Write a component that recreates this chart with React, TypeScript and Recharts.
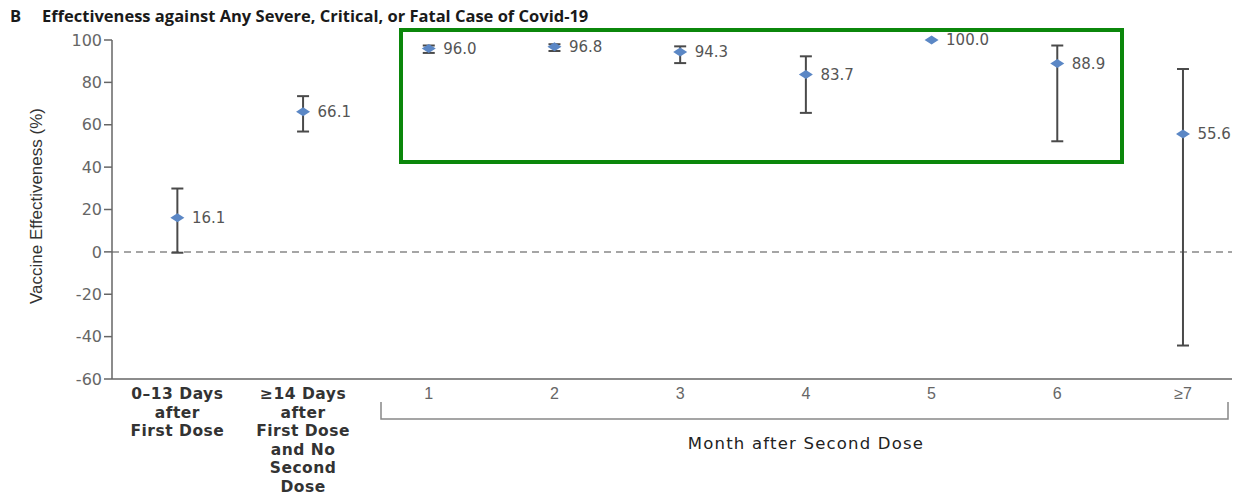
import React from 'react'
import {
  ComposedChart, Scatter, XAxis, YAxis, ErrorBar, LabelList, ReferenceLine,
} from 'recharts'

// vaccine effectiveness against severe, critical or fatal covid-19
const categories = [
  ['0–13 Days', 'after', 'First Dose'],
  ['≥14 Days', 'after', 'First Dose', 'and No', 'Second', 'Dose'],
  ['1'], ['2'], ['3'], ['4'], ['5'], ['6'], ['≥7'],
]
const estimates = [16.1, 66.1, 96.0, 96.8, 94.3, 83.7, 100.0, 88.9, 55.6]
const lowerCI: (number | null)[] = [-0.4, 56.8, 93.9, 94.8, 89.1, 65.6, null, 52.2, -44.2]
const upperCI: (number | null)[] = [29.9, 73.5, 97.4, 98.0, 97.0, 92.3, null, 97.4, 86.3]
const yTicks = [-60, -40, -20, 0, 20, 40, 60, 80, 100]

const points = estimates.map((ve, i) => ({ pos: i, ve }))
const intervals = estimates
  .map((ve, i) => ({
    pos: i,
    ve,
    err: lowerCI[i] == null ? null : [ve - (lowerCI[i] as number), (upperCI[i] as number) - ve],
  }))
  .filter((d) => d.err != null)

const numFont = 'DejaVu Sans, sans-serif'
const narrowFont = '"Liberation Sans Narrow", "Liberation Sans", sans-serif'

const Diamond = (props: any) => {
  const { cx, cy } = props
  if (cx == null || cy == null) return null
  return (
    <polygon
      points={`${cx - 7},${cy} ${cx},${cy - 4.5} ${cx + 7},${cy} ${cx},${cy + 4.5}`}
      fill="#5b87c5"
    />
  )
}

const Nothing = () => <g />

const CategoryTick = (props: any) => {
  const { x, y, payload } = props
  const lines = categories[payload.value] || []
  if (payload.value < 2) {
    return (
      <text
        x={x}
        y={y - 1}
        textAnchor="middle"
        fontFamily={numFont}
        fontWeight={700}
        fontSize={15.5}
        letterSpacing={0.5}
        fill="#333"
      >
        {lines.map((l, k) => (
          <tspan key={k} x={x} dy={k === 0 ? 13 : 18.5}>{l}</tspan>
        ))}
      </text>
    )
  }
  return (
    <text x={x} y={y + 12} textAnchor="middle" fontFamily={narrowFont} fontSize={16} fill="#666">
      {lines[0]}
    </text>
  )
}

export default function App() {
  return (
    <div style={{ position: 'absolute', left: 0, top: 0, width: 1245, height: 497, background: '#fff' }}>
      <ComposedChart
        width={1245}
        height={497}
        data={points}
        margin={{ top: 40, right: 13, left: 55, bottom: 0 }}
      >
        <XAxis
          dataKey="pos"
          type="number"
          domain={[-0.52, 8.39]}
          ticks={[0, 1, 2, 3, 4, 5, 6, 7, 8]}
          interval={0}
          height={118}
          tick={<CategoryTick />}
          tickLine={false}
          axisLine={{ stroke: '#666', strokeWidth: 1.5 }}
        />
        <YAxis
          type="number"
          domain={[-60, 100]}
          ticks={yTicks}
          interval={0}
          width={57}
          tickSize={8}
          tick={{ fontSize: 16, fill: '#666', fontFamily: numFont }}
          tickLine={{ stroke: '#666', strokeWidth: 1.5 }}
          axisLine={{ stroke: '#666', strokeWidth: 1.5 }}
          label={{
            content: () => (
              <text
                x={38}
                y={206}
                transform="rotate(-90 38 206)"
                textAnchor="middle"
                dominantBaseline="middle"
                fontFamily={narrowFont}
                fontSize={17}
                fill="#333"
              >
                Vaccine Effectiveness (%)
              </text>
            ),
          }}
        />
        <ReferenceLine y={0} stroke="#888" strokeWidth={1.5} strokeDasharray="7 5" />
        <Scatter data={intervals} dataKey="ve" shape={<Nothing />} isAnimationActive={false}>
          <ErrorBar dataKey="err" direction="y" width={6} stroke="#4a4a4a" strokeWidth={2} isAnimationActive={false} />
        </Scatter>
        <Scatter data={points} dataKey="ve" shape={<Diamond />} isAnimationActive={false}>
          <LabelList
            dataKey="ve"
            position="right"
            offset={10}
            formatter={(v: any) => Number(v).toFixed(1)}
            style={{ fontSize: 15, fill: '#555', fontFamily: numFont }}
          />
        </Scatter>
      </ComposedChart>

      <svg
        width={1245}
        height={497}
        style={{ position: 'absolute', left: 0, top: 0, pointerEvents: 'none' }}
      >
        <text x={10} y={22} fontFamily='"Open Sans", sans-serif' fontWeight={700} fontSize={16.5} fill="#1a1a1a">B</text>
        <text x={42} y={22} fontFamily='"Open Sans", sans-serif' fontWeight={700} fontSize={16.5} fill="#1a1a1a">
          Effectiveness against Any Severe, Critical, or Fatal Case of Covid-19
        </text>
        <path d="M381 402 V419 H1228 V402" fill="none" stroke="#888" strokeWidth={1.5} />
        <text
          x={806}
          y={449}
          textAnchor="middle"
          fontFamily={numFont}
          fontSize={16.5}
          letterSpacing={1.2}
          fill="#222"
        >
          Month after Second Dose
        </text>
      </svg>

      <div
        style={{
          position: 'absolute',
          left: 399,
          top: 28,
          width: 717,
          height: 128,
          border: '4px solid #0b870b',
        }}
      />
    </div>
  )
}
